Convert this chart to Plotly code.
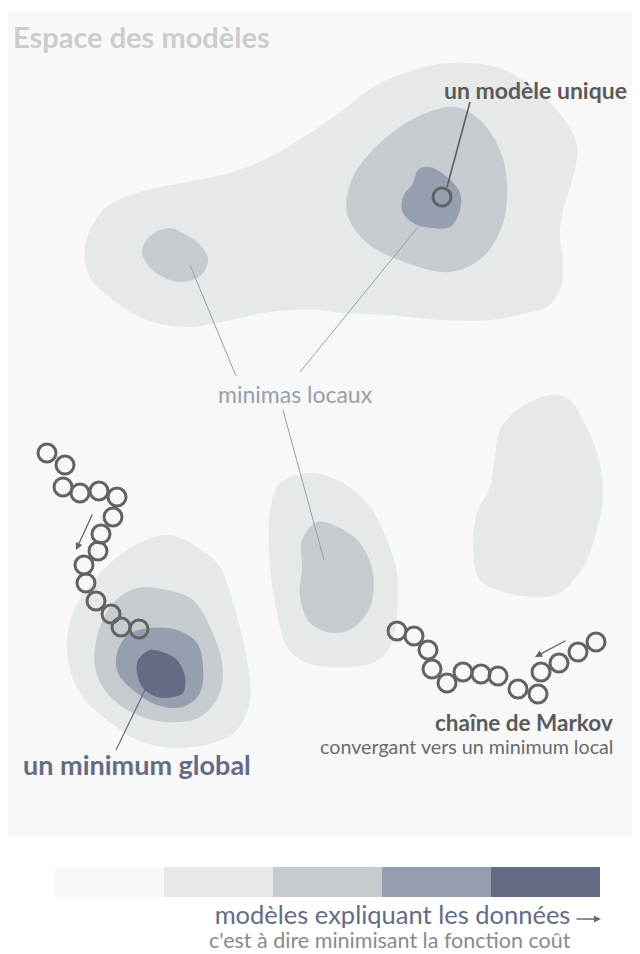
import plotly.graph_objects as go

# ---------------- data ----------------
# blob outlines (x, y) in picture units, y downward
blobA_l1_x = [85, 103, 137, 187, 230, 270, 310, 343, 373, 423, 457, 497, 527, 557, 577, 573, 563, 560, 563, 560, 547, 527, 490, 440, 390, 340, 320, 270, 230, 187, 147, 113, 90]
blobA_l1_y = [247, 210, 193, 182, 173, 157, 133, 110, 87, 67, 63, 67, 83, 110, 145, 177, 210, 237, 263, 290, 307, 313, 320, 320, 315, 313, 310, 312, 320, 327, 320, 300, 277]
blobA_l2_x = [455, 480, 500, 507, 503, 483, 450, 407, 367, 347, 353, 380, 417]
blobA_l2_y = [107, 120, 150, 183, 223, 257, 272, 263, 243, 213, 177, 143, 117]
blobA_l3_x = [430, 447, 460, 460, 450, 433, 417, 403, 403, 413, 418]
blobA_l3_y = [167, 177, 193, 210, 227, 228, 225, 213, 197, 183, 170]
blobB_l2_x = [142, 150, 170, 183, 200, 208, 200, 180, 155]
blobB_l2_y = [253, 236, 228, 233, 245, 260, 276, 282, 272]
blobC_l1_x = [310, 343, 370, 387, 397, 397, 390, 373, 340, 307, 287, 277, 270, 270, 280]
blobC_l1_y = [473, 483, 507, 540, 573, 613, 647, 663, 667, 663, 647, 613, 567, 513, 483]
blobC_l2_x = [317, 340, 360, 373, 370, 353, 333, 310, 300, 302, 302]
blobC_l2_y = [522, 528, 543, 573, 607, 628, 633, 623, 597, 567, 540]
blobD_l1_x = [550, 570, 583, 597, 603, 597, 583, 560, 540, 507, 480, 473, 477, 490, 495, 500, 517]
blobD_l1_y = [395, 400, 420, 453, 490, 530, 567, 593, 597, 593, 580, 547, 513, 487, 457, 430, 410]
blobE_l1_x = [167, 197, 220, 233, 247, 250, 237, 213, 173, 140, 107, 80, 67, 73, 97, 127]
blobE_l1_y = [535, 547, 567, 603, 660, 700, 730, 743, 748, 741, 720, 693, 653, 613, 577, 550]
blobE_l2_x = [137, 167, 193, 210, 222, 220, 200, 167, 133, 107, 95, 98, 113]
blobE_l2_y = [588, 590, 600, 627, 663, 693, 717, 722, 713, 693, 667, 633, 603]
blobE_l3_x = [150, 177, 197, 203, 200, 183, 157, 133, 118, 117, 128]
blobE_l3_y = [628, 630, 643, 667, 693, 707, 705, 690, 673, 653, 635]
blobE_l4_x = [150, 163, 177, 185, 183, 173, 157, 143, 137, 138]
blobE_l4_y = [650, 652, 660, 677, 693, 697, 697, 688, 673, 660]

# Markov chains (circle centres)
chain1_x = [47, 65, 63, 80, 99, 117, 113, 101, 98, 84, 86, 96, 111, 121, 139]
chain1_y = [453, 465, 487, 493, 491, 497, 517, 534, 551, 565, 583, 601, 614, 627, 629]
chain2_x = [397, 414, 428, 432, 447, 463, 481, 498, 518, 538, 541, 559, 578, 596]
chain2_y = [631, 636, 650, 669, 683, 672, 674, 676, 689, 694, 672, 663, 652, 642]
single_x = [442]
single_y = [197]

# leader lines
lead_unique_x = [447, 470]
lead_unique_y = [187, 102]
lead_local1_x = [190, 236]
lead_local1_y = [265, 376]
lead_local2_x = [418, 300]
lead_local2_y = [227, 372]
lead_local3_x = [283, 324]
lead_local3_y = [410, 560]
lead_global_x = [145, 116]
lead_global_y = [690, 750]

# legend scale
legend_edges = [55, 164, 273, 382, 491, 600]
legend_colors = ["#f8f8f8", "#e6e9ea", "#c5cbcf", "#969fad", "#646b84"]
legend_title = "modèles expliquant les données"
legend_subtitle = "c'est à dire minimisant la fonction coût"

LEVEL = {1: "#e6e9ea", 2: "#c5cbcf", 3: "#969fad", 4: "#646b84"}
FONT = "Lato"

fig = go.Figure()

def blob(xs, ys, level):
    fig.add_trace(go.Scatter(
        x=xs + [xs[0]], y=ys + [ys[0]], mode="lines", fill="toself",
        fillcolor=LEVEL[level], line=dict(width=0, shape="spline", smoothing=1.0, color=LEVEL[level]),
        hoverinfo="skip", showlegend=False))

blob(blobA_l1_x, blobA_l1_y, 1)
blob(blobA_l2_x, blobA_l2_y, 2)
blob(blobA_l3_x, blobA_l3_y, 3)
blob(blobB_l2_x, blobB_l2_y, 2)
blob(blobC_l1_x, blobC_l1_y, 1)
blob(blobC_l2_x, blobC_l2_y, 2)
blob(blobD_l1_x, blobD_l1_y, 1)
blob(blobE_l1_x, blobE_l1_y, 1)
blob(blobE_l2_x, blobE_l2_y, 2)
blob(blobE_l3_x, blobE_l3_y, 3)
blob(blobE_l4_x, blobE_l4_y, 4)

def line(xs, ys, color, width):
    fig.add_trace(go.Scatter(x=xs, y=ys, mode="lines", line=dict(color=color, width=width),
                             hoverinfo="skip", showlegend=False))

line(lead_unique_x, lead_unique_y, "#5e5e5e", 1.6)
line(lead_local1_x, lead_local1_y, "#969fad", 1)
line(lead_local2_x, lead_local2_y, "#969fad", 1)
line(lead_local3_x, lead_local3_y, "#969fad", 1)
line(lead_global_x, lead_global_y, "#646b84", 1.2)

for cx, cy in [(chain1_x, chain1_y), (chain2_x, chain2_y), (single_x, single_y)]:
    fig.add_trace(go.Scatter(x=cx, y=cy, mode="markers",
                             marker=dict(symbol="circle-open", size=18, color="#636363",
                                         line=dict(width=3, color="#636363")),
                             hoverinfo="skip", showlegend=False))

# legend bar
for i, c in enumerate(legend_colors):
    x0, x1 = legend_edges[i], legend_edges[i + 1]
    fig.add_trace(go.Scatter(x=[x0, x1, x1, x0, x0], y=[867, 867, 897, 897, 867], mode="lines",
                             fill="toself", fillcolor=c, line=dict(width=0),
                             hoverinfo="skip", showlegend=False))

# panel
fig.add_shape(type="rect", x0=8, x1=640, y0=12, y1=836, fillcolor="#f8f8f8",
              line=dict(width=0), layer="below")

def text(s, x, y, size, color, anchor, bold=False):
    fig.add_annotation(x=x, y=y, text=("<b>%s</b>" % s) if bold else s, showarrow=False,
                       xanchor=anchor, yanchor="middle",
                       font=dict(family=FONT, size=size, color=color))

text("Espace des modèles", 11, 36, 29, "#cccccc", "left", True)
text("un modèle unique", 629, 90, 23, "#5a5a5a", "right", True)
text("minimas locaux", 295, 394, 23, "#969fad", "center")
text("un minimum global", 21, 764, 27, "#646b84", "left", True)
text("chaîne de Markov", 615, 722, 22.5, "#5a5a5a", "right", True)
text("convergant vers un minimum local", 616, 746, 19.7, "#6a6a6a", "right")

# two-line legend caption as one text block
fig.add_annotation(
    x=572, y=953.5, xanchor="right", yanchor="bottom", align="right", showarrow=False,
    borderpad=0,
    text=('<span style="font-size:25.5px;color:#646b84">%s</span><br>'
          '<span style="font-size:21.5px;color:#8a8a8a">%s</span>') % (legend_title, legend_subtitle),
    font=dict(family=FONT, size=18.5, color="#646b84"))

def arrow(x0, y0, x1, y1, color):
    fig.add_annotation(x=x1, y=y1, ax=x0, ay=y0, xref="x", yref="y", axref="x", ayref="y",
                       showarrow=True, arrowhead=2, arrowsize=1.1, arrowwidth=1.3,
                       arrowcolor=color, text="")

arrow(93, 513, 76, 550, "#636363")
arrow(567, 640, 535, 657, "#636363")
arrow(575, 919, 601, 919, "#646b84")

# the page has an 8px body margin: the figure covers page pixels 8..640 / 8..954
fig.update_layout(
    width=632, height=946, margin=dict(l=0, r=0, t=0, b=0),
    paper_bgcolor="white", plot_bgcolor="white",
    xaxis=dict(range=[8, 640], visible=False, fixedrange=True),
    yaxis=dict(range=[954, 8], visible=False, fixedrange=True),
)
fig.write_html("out.html")
